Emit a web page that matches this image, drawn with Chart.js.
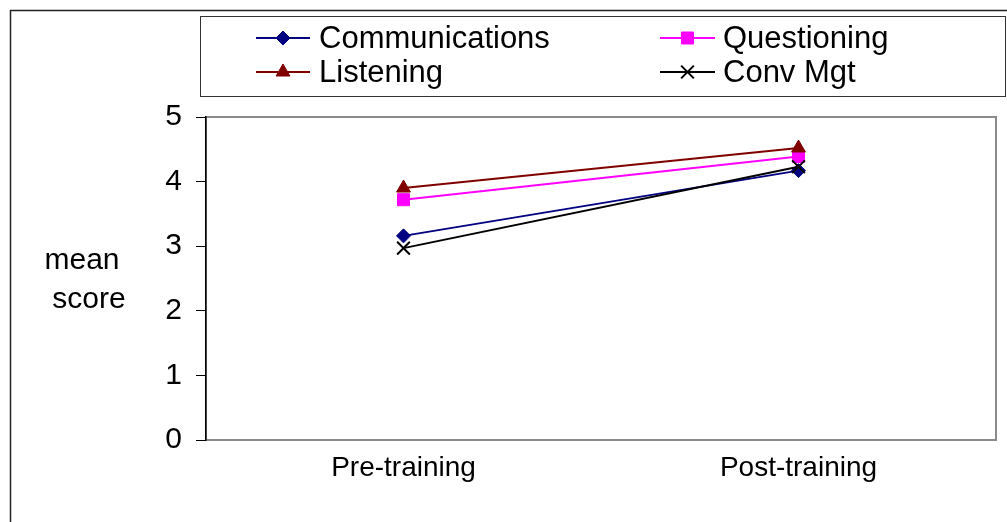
<!DOCTYPE html>
<html>
<head>
<meta charset="utf-8">
<script src="https://cdn.jsdelivr.net/npm/chart.js@4/dist/chart.umd.min.js"></script>
<style>
  html, body { margin: 0; padding: 0; background: #fff; }
  #wrap { width: 1007px; height: 522px; }
</style>
</head>
<body>
<div id="wrap"><canvas id="c" width="1007" height="522"></canvas></div>
<script>
// Mean scores before and after training, by skill area
const categories = ['Pre-training', 'Post-training'];
const communications = [3.16, 4.17];
const questioning = [3.72, 4.39];
const listening = [3.90, 4.52];
const convMgt = [2.97, 4.23];
const yTickValues = [0, 1, 2, 3, 4, 5];
const yTitleLines = ['mean', 'score'];

const FONT = '"Liberation Sans", Arial, sans-serif';

const series = [
  { label: 'Communications', data: communications, color: '#000080', pointStyle: 'rectRot', radius: 7, bw: 1, order: 4 },
  { label: 'Questioning', data: questioning, color: '#FF00FF', pointStyle: 'rect', radius: 8.5, bw: 1, order: 3 },
  { label: 'Listening', data: listening, color: '#800000', pointStyle: 'triangle', radius: 8, bw: 1, order: 2 },
  { label: 'Conv Mgt', data: convMgt, color: '#000000', pointStyle: 'crossRot', radius: 9, bw: 2, order: 1 }
];

// Frame around the whole chart and the grey plot-area border
const framePlugin = {
  id: 'frame',
  beforeDraw(chart) {
    const ctx = chart.ctx;
    const a = chart.chartArea;
    ctx.save();
    ctx.strokeStyle = '#222';
    ctx.lineWidth = 1.5;
    ctx.beginPath();
    ctx.moveTo(10.5, 530);
    ctx.lineTo(10.5, 10.5);
    ctx.lineTo(1020, 10.5);
    ctx.stroke();
    ctx.strokeStyle = '#8a8a8a';
    ctx.lineWidth = 2;
    ctx.strokeRect(a.left, a.top, a.right - a.left, a.bottom - a.top);
    ctx.restore();
  }
};

// Horizontal two-line axis title on the left
const yTitlePlugin = {
  id: 'yTitle',
  afterDraw(chart) {
    const ctx = chart.ctx;
    ctx.save();
    ctx.fillStyle = '#000';
    ctx.font = '30px ' + FONT;
    ctx.textAlign = 'center';
    ctx.textBaseline = 'alphabetic';
    ctx.fillText(yTitleLines[0], 82, 269);
    ctx.fillText(yTitleLines[1], 89, 308);
    ctx.restore();
  }
};

// Boxed legend with line-and-marker samples, two columns
const legendPlugin = {
  id: 'boxLegend',
  afterDraw(chart) {
    const ctx = chart.ctx;
    ctx.save();
    ctx.strokeStyle = '#333';
    ctx.lineWidth = 1;
    ctx.strokeRect(200.5, 16.5, 805, 80);
    const cols = [{ x0: 256, x1: 310, tx: 319 }, { x0: 660, x1: 715, tx: 723 }];
    const rows = [38, 72];
    chart.data.datasets.forEach((ds, i) => {
      const col = cols[i % 2];
      const y = rows[Math.floor(i / 2)];
      ctx.strokeStyle = ds.borderColor;
      ctx.lineWidth = 2;
      ctx.beginPath();
      ctx.moveTo(col.x0, y);
      ctx.lineTo(col.x1, y);
      ctx.stroke();
      ctx.fillStyle = ds.pointBackgroundColor;
      ctx.strokeStyle = ds.pointBorderColor;
      ctx.lineWidth = ds.pointBorderWidth;
      Chart.helpers.drawPoint(ctx, {
        pointStyle: ds.pointStyle,
        radius: ds.pointRadius,
        borderWidth: ds.pointBorderWidth,
        rotation: 0
      }, (col.x0 + col.x1) / 2, y);
      ctx.fillStyle = '#000';
      ctx.font = '31px ' + FONT;
      ctx.textAlign = 'left';
      ctx.textBaseline = 'middle';
      ctx.fillText(ds.label, col.tx, y + 1);
    });
    ctx.restore();
  }
};

new Chart(document.getElementById('c'), {
  type: 'line',
  data: {
    labels: categories,
    datasets: series.map(s => ({
      label: s.label,
      data: s.data,
      borderColor: s.color,
      backgroundColor: s.color,
      borderWidth: 2,
      pointStyle: s.pointStyle,
      pointRadius: s.radius,
      pointHoverRadius: s.radius,
      pointBackgroundColor: s.color,
      pointBorderColor: s.color,
      pointBorderWidth: s.bw,
      order: s.order,
      tension: 0,
      fill: false
    }))
  },
  options: {
    responsive: false,
    devicePixelRatio: 1,
    animation: false,
    layout: { padding: { top: 117, right: 9, bottom: 0, left: 0 } },
    plugins: {
      legend: { display: false },
      tooltip: { enabled: false },
      title: { display: false }
    },
    scales: {
      x: {
        type: 'category',
        offset: true,
        grid: { display: false },
        border: { display: false },
        ticks: {
          color: '#000',
          font: { family: FONT, size: 28 },
          padding: 3,
          maxRotation: 0
        },
        afterFit(scale) { scale.height = 82; }
      },
      y: {
        min: 0,
        max: 5,
        afterBuildTicks(scale) { scale.ticks = yTickValues.map(v => ({ value: v })); },
        grid: {
          drawOnChartArea: false,
          drawTicks: true,
          tickLength: 10,
          color: '#000',
          lineWidth: 1
        },
        border: { display: true, color: '#000', width: 1.5 },
        ticks: {
          color: '#000',
          font: { family: FONT, size: 30 },
          padding: 14
        },
        afterFit(scale) { scale.width = 206; }
      }
    }
  },
  plugins: [framePlugin, yTitlePlugin, legendPlugin]
});
</script>
</body>
</html>
